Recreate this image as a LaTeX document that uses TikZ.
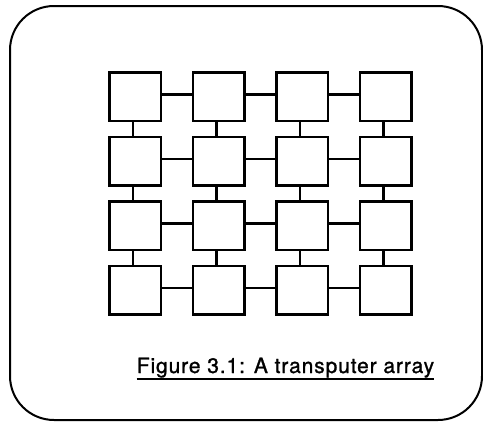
\documentclass[tikz,border=0pt]{standalone}
\usepackage{fontspec}
\setmainfont{TeX Gyre Heros}
\newfontfamily\capfont[LetterSpace=4.2,FakeBold=1.2]{TeX Gyre Heros}
\usetikzlibrary{calc}
\begin{document}
\begin{tikzpicture}[x=1pt,y=-1pt,
  cell/.style={draw, line width=2.8pt, minimum width=51.5pt, minimum height=48.5pt, inner sep=0pt, anchor=north west},
  hlink/.style={line width=2.4pt},
  frame/.style={line width=2pt, rounded corners=44pt},
  caption/.style={inner sep=0pt, anchor=base, font=\capfont\fontsize{21}{25}\selectfont}]
  \useasboundingbox (0,0) rectangle (483,423);
  % outer frame
  \draw[frame] (10,6) rectangle (482,420);
  % 4x4 grid of transputers
  \foreach \r in {1,...,4} {
    \foreach \c in {1,...,4} {
      \node[cell] (t\r\c) at ({108+83.5*(\c-1)},{71+64.5*(\r-1)}) {};
    }
  }
  % horizontal links
  \foreach \r in {1,...,4} {
    \foreach \c/\n in {1/2,2/3,3/4} {
      \draw[hlink] ([yshift=2pt]t\r\c.east) -- ([yshift=2pt]t\r\n.west);
    }
  }
  % vertical links
  \foreach \r/\n in {1/2,2/3,3/4} {
    \foreach \c in {1,...,4} {
      \draw[hlink] ([xshift=-2pt]t\r\c.south) -- ([xshift=-2pt]t\n\c.north);
    }
  }
  % caption with underline
  \node[caption] (cap) at (285.5,373) {Figure 3.1: A transputer array};
  \draw[line width=1.8pt] ([yshift=-6pt]cap.base west) -- ([yshift=-6pt]cap.base east);
\end{tikzpicture}
\end{document}
